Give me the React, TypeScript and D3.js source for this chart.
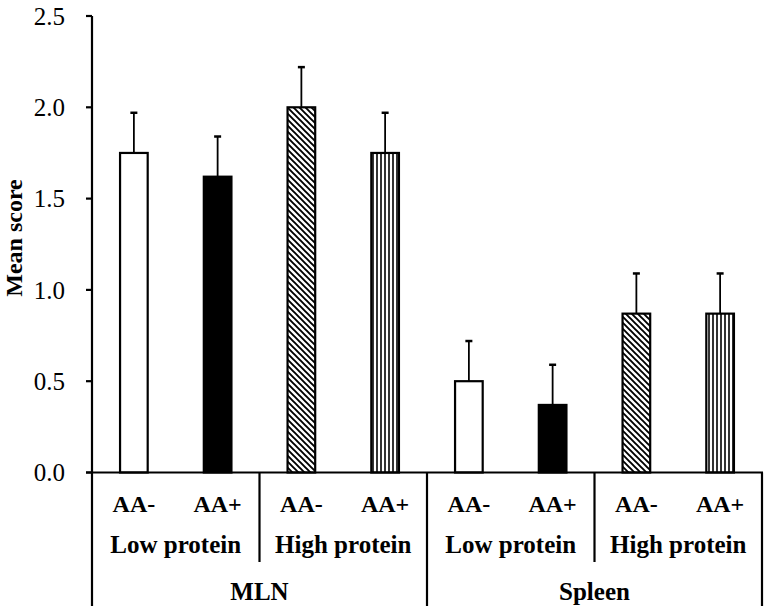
import React from "react";
import * as d3 from "d3";

const tissues = ["MLN", "Spleen"];
const diets = ["Low protein", "High protein"];
const aaLevels = ["AA-", "AA+"];
const means = [1.75, 1.62, 2.0, 1.75, 0.5, 0.37, 0.87, 0.87];
const errors = [0.22, 0.22, 0.22, 0.22, 0.22, 0.22, 0.22, 0.22];
const yTicks = [0, 0.5, 1.0, 1.5, 2.0, 2.5];

const W = 772;
const H = 610;
const left = 92;
const right = 762;
const fills = ["#fff", "#000", "url(#diag)", "url(#vert)"];

export default function App() {
  const y = d3.scaleLinear().domain([0, 2.5]).range([472.5, 16]);
  const bars = d3.range(means.length);
  const x = d3.scalePoint<number>().domain(bars).range([left, right]).padding(0.5);
  const step = x.step();
  const bw = step * 0.33;
  const groupScale = d3.scaleLinear().domain([0, 4]).range([left, right]);
  const tissueScale = d3.scaleLinear().domain([0, 2]).range([left, right]);
  const font = "'Liberation Serif', 'Times New Roman', serif";

  return (
    <div style={{ position: "absolute", left: 0, top: 0 }}>
      <svg width={W} height={H} style={{ display: "block", background: "#fff" }}>
        <defs>
          <pattern id="diag" patternUnits="userSpaceOnUse" width="6" height="6">
            <rect width="6" height="6" fill="#fff" />
            <path d="M-1.5,-1.5 L7.5,7.5 M-1.5,4.5 L1.5,7.5 M4.5,-1.5 L7.5,1.5" stroke="#000" strokeWidth="1.9" />
          </pattern>
          <pattern id="vert" patternUnits="userSpaceOnUse" width="4" height="4" x={0}>
            <rect width="4" height="4" fill="#fff" />
            <line x1="1" y1="0" x2="1" y2="4" stroke="#000" strokeWidth="1.6" />
          </pattern>
        </defs>
        <g fontFamily={font} fill="#000">
          {bars.map((i) => {
            const cx = x(i)!;
            const top = y(means[i]);
            const etop = y(means[i] + errors[i]);
            return (
              <g key={i}>
                <line x1={cx} x2={cx} y1={top} y2={etop} stroke="#000" strokeWidth={1.8} />
                <line x1={cx - 3.5} x2={cx + 3.5} y1={etop} y2={etop} stroke="#000" strokeWidth={2.5} />
                <rect
                  x={cx - bw / 2}
                  y={top}
                  width={bw}
                  height={y(0) - top}
                  fill={fills[i % 4]}
                  stroke="#000"
                  strokeWidth={2.2}
                />
              </g>
            );
          })}
          <line x1={left} x2={left} y1={y(2.5)} y2={606} stroke="#000" strokeWidth={2.2} />
          {yTicks.map((t) => (
            <g key={t}>
              <line x1={left - 6} x2={left} y1={y(t)} y2={y(t)} stroke="#000" strokeWidth={2.2} />
              <text x={65} y={y(t)} dy="0.35em" textAnchor="end" fontSize={25}>
                {t.toFixed(1)}
              </text>
            </g>
          ))}
          <text
            transform={`translate(22,${238}) rotate(-90)`}
            textAnchor="middle"
            fontSize={24}
            fontWeight="bold"
          >
            Mean score
          </text>
          <line x1={left - 6} x2={right + 1} y1={y(0)} y2={y(0)} stroke="#000" strokeWidth={2.2} />
          {d3.range(1, 5).map((g) => (
            <line
              key={g}
              x1={groupScale(g)}
              x2={groupScale(g)}
              y1={y(0)}
              y2={g % 2 === 0 ? 606 : 562}
              stroke="#000"
              strokeWidth={2.2}
            />
          ))}
          {bars.map((i) => (
            <text key={i} x={x(i)!} y={512} textAnchor="middle" fontSize={24} fontWeight="bold">
              {aaLevels[i % 2]}
            </text>
          ))}
          {d3.range(4).map((g) => (
            <text
              key={g}
              x={(groupScale(g) + groupScale(g + 1)) / 2}
              y={553}
              textAnchor="middle"
              fontSize={25}
              fontWeight="bold"
            >
              {diets[g % 2]}
            </text>
          ))}
          {tissues.map((t, k) => (
            <text
              key={t}
              x={(tissueScale(k) + tissueScale(k + 1)) / 2}
              y={600}
              textAnchor="middle"
              fontSize={25}
              fontWeight="bold"
            >
              {t}
            </text>
          ))}
        </g>
      </svg>
    </div>
  );
}
